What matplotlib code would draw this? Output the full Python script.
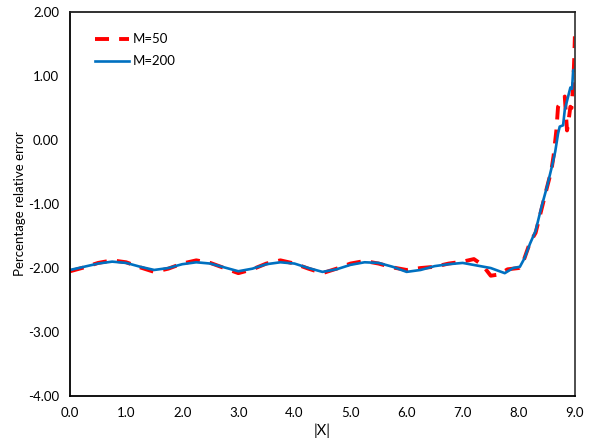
import matplotlib
matplotlib.use("Agg")
import matplotlib.pyplot as plt

# M=200 curve
x_m200 = [0.0, 0.25, 0.5, 0.75, 1.0, 1.25, 1.5, 1.75, 2.0, 2.25, 2.5, 2.75,
          3.0, 3.25, 3.5, 3.75, 4.0, 4.25, 4.5, 4.75, 5.0, 5.25, 5.5, 5.75,
          6.0, 6.25, 6.5, 6.75, 7.0, 7.25, 7.5, 7.75, 7.9, 8.02, 8.1, 8.2,
          8.3, 8.4, 8.5, 8.6, 8.65, 8.7, 8.73, 8.79, 8.82, 8.88, 8.92, 8.95,
          8.97, 9.0]
y_m200 = [-2.03, -1.98, -1.93, -1.90, -1.92, -1.98, -2.03, -2.00, -1.94, -1.91,
          -1.93, -1.99, -2.05, -2.01, -1.94, -1.91, -1.93, -2.00, -2.06, -2.02,
          -1.95, -1.91, -1.92, -1.98, -2.06, -2.03, -1.97, -1.94, -1.92, -1.96,
          -2.00, -2.08, -2.00, -1.98, -1.85, -1.62, -1.42, -1.06, -0.74, -0.38,
          -0.18, 0.10, 0.21, 0.23, 0.47, 0.68, 0.82, 0.80, 1.09, 1.10]

# M=50 curve
x_m50 = [0.0, 0.25, 0.5, 0.75, 1.0, 1.25, 1.5, 1.75, 2.0, 2.25, 2.5, 2.75,
         3.0, 3.25, 3.5, 3.75, 4.0, 4.25, 4.5, 4.75, 5.0, 5.25, 5.5, 5.75,
         6.0, 6.25, 6.5, 6.75, 7.0, 7.2, 7.35, 7.5, 7.65, 7.8, 8.0, 8.1,
         8.2, 8.3, 8.4, 8.5, 8.58, 8.62, 8.67, 8.70, 8.76, 8.82, 8.86, 8.88,
         8.92, 8.94, 8.97, 8.99, 9.0]
y_m50 = [-2.05, -1.99, -1.92, -1.88, -1.91, -1.99, -2.06, -2.01, -1.93, -1.88,
         -1.92, -2.00, -2.08, -2.02, -1.93, -1.88, -1.93, -2.01, -2.08, -2.01,
         -1.93, -1.89, -1.93, -1.99, -2.03, -2.00, -1.98, -1.93, -1.90, -1.86,
         -1.95, -2.12, -2.10, -2.02, -2.00, -1.85, -1.60, -1.45, -1.10, -0.75,
         -0.48, -0.25, 0.15, 0.52, 0.60, 0.68, 0.15, 0.25, 0.52, 0.50,
         0.85, 1.30, 1.62]

plt.rcParams['font.family'] = ['Lato', 'DejaVu Sans']

fig = plt.figure(figsize=(5.89, 4.45), dpi=100)
ax = fig.add_axes([0.119, 0.110, 0.857, 0.863])

ax.plot(x_m50, y_m50, color='#FF0000', lw=2.8, dashes=(3.6, 2.6), label='M=50')
ax.plot(x_m200, y_m200, color='#0070C0', lw=1.9, label='M=200')

ax.set_xlim(0, 9)
ax.set_ylim(-4, 2)
ax.set_xticks(range(0, 10))
ax.set_xticklabels([f"{v:.1f}" for v in range(0, 10)])
ax.set_yticks(range(-4, 3))
ax.set_yticklabels([f"{v:.2f}" for v in range(-4, 3)])
ax.tick_params(length=0, labelsize=9.5, pad=8)

for s in ax.spines.values():
    s.set_linewidth(1.3)
    s.set_color('black')
ax.spines['right'].set_color('#404040')
ax.spines['top'].set_color('#202020')

ax.set_xlabel('|X|', fontsize=10.5, labelpad=3)
ax.set_ylabel('Percentage relative error', fontsize=9.5, labelpad=1)

ax.legend(loc='upper left', frameon=False, fontsize=9.5, handlelength=2.6,
          bbox_to_anchor=(0.025, 0.975), labelspacing=0.75, handletextpad=0.3)

fig.savefig('out.png', dpi=100)
